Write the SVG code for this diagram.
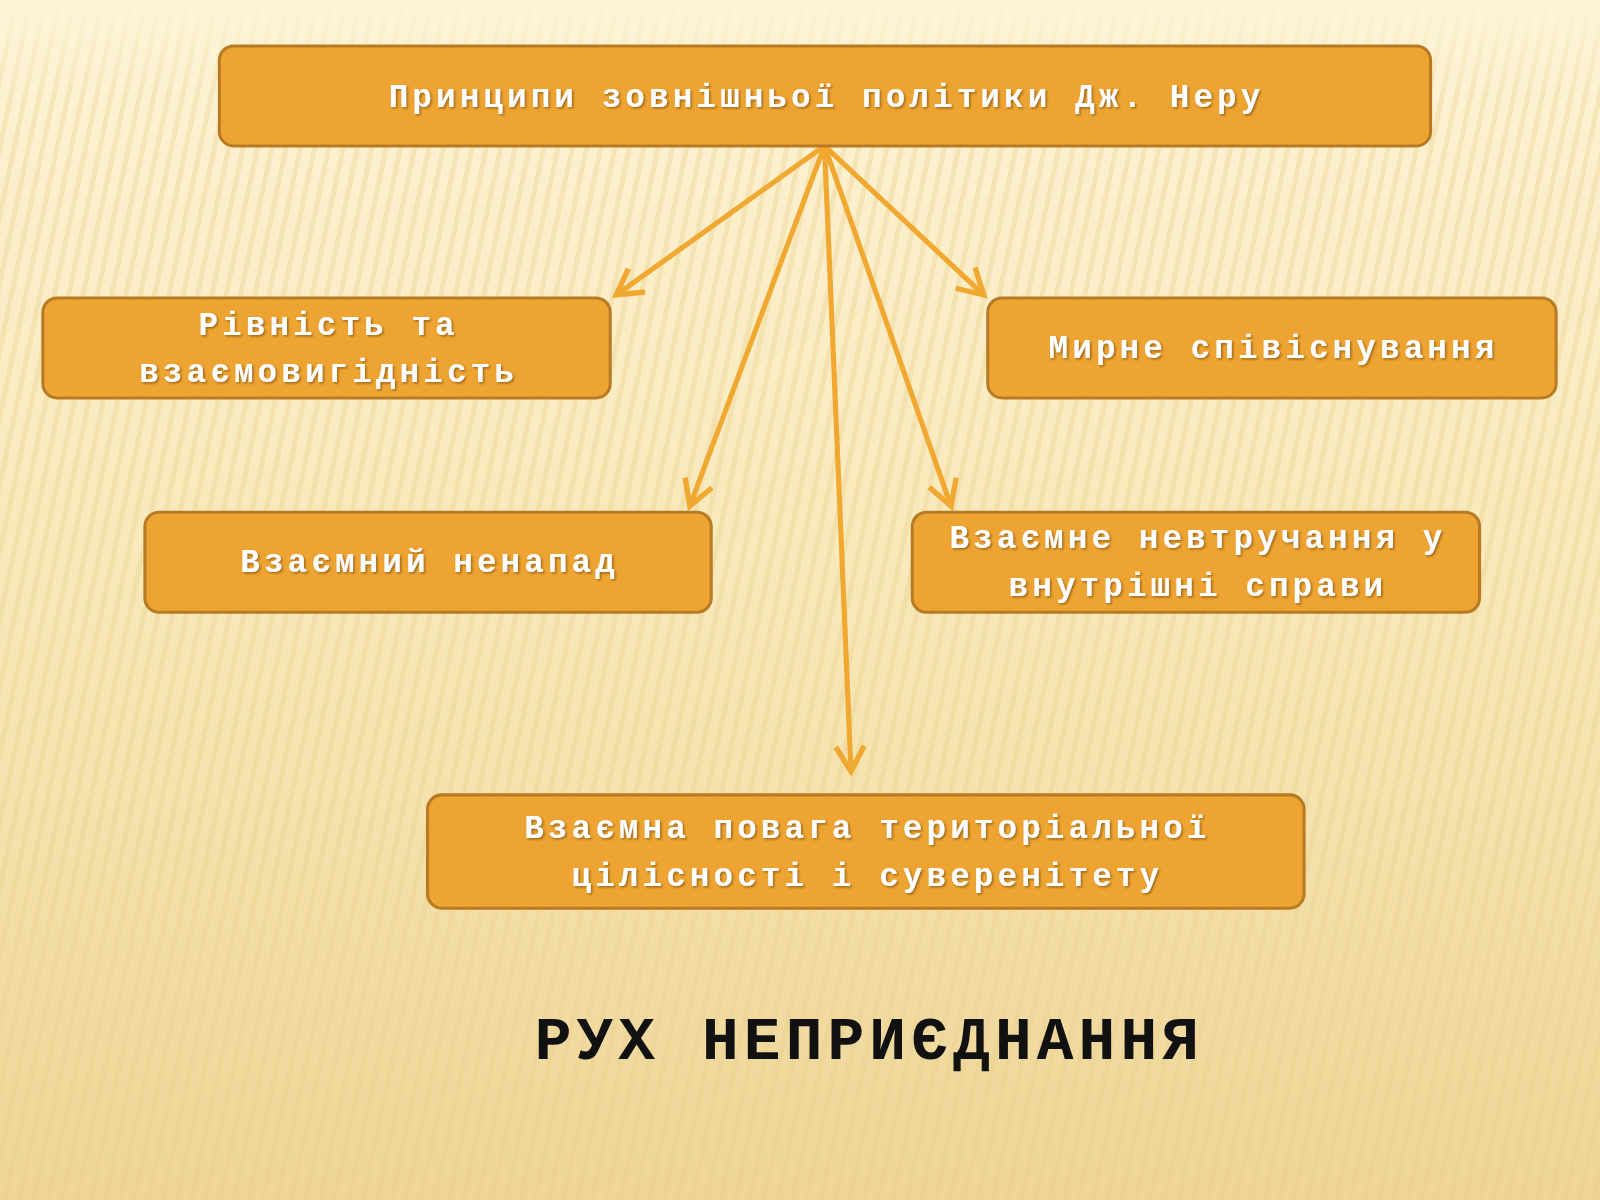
<svg xmlns="http://www.w3.org/2000/svg" width="1600" height="1200" viewBox="0 0 1600 1200">
<defs>
<linearGradient id="bg" x1="0" y1="0" x2="0" y2="1">
<stop offset="0" stop-color="#fdf3d6"/><stop offset="0.5" stop-color="#f8e8b8"/><stop offset="1" stop-color="#eed596"/>
</linearGradient>
<pattern id="st" width="14" height="14" patternUnits="userSpaceOnUse" patternTransform="rotate(12)">
<rect width="5" height="14" fill="#e8cf8a" opacity="0.35"/>
</pattern>
<linearGradient id="fade" x1="0" y1="0" x2="0" y2="1">
<stop offset="0" stop-color="#fdf3d6" stop-opacity="1"/><stop offset="0.08" stop-color="#fdf3d6" stop-opacity="0"/>
</linearGradient>
<marker id="ah" viewBox="0 0 20 20" refX="16" refY="10" markerWidth="7" markerHeight="7" markerUnits="strokeWidth" orient="auto">
<path d="M2,2 L16,10 L2,18" fill="none" stroke="#f0a830" stroke-width="3"/>
</marker>
<filter id="sh"><feDropShadow dx="1.5" dy="1.5" stdDeviation="0.8" flood-color="#8a5a10" flood-opacity="0.8"/></filter>
</defs>
<style>
.box{fill:#eea432;stroke:#b87a22;stroke-width:3}
.t{font-family:"Liberation Mono","DejaVu Sans Mono",monospace;font-weight:bold;font-size:32px;fill:#fff;text-anchor:middle;letter-spacing:4px;filter:url(#sh)}
.c{stroke:#f0a830;stroke-width:5;fill:none;marker-end:url(#ah)}
</style>
<rect width="1600" height="1200" fill="url(#bg)"/>
<rect width="1600" height="1200" fill="url(#st)"/>
<rect width="1600" height="1200" fill="url(#fade)"/>
<g transform="scale(1.0204)">
<g id="connectors">
<line class="c" x1="808" y1="143" x2="604" y2="289"/>
<line class="c" x1="808" y1="143" x2="964" y2="289"/>
<line class="c" x1="808" y1="143" x2="676" y2="496"/>
<line class="c" x1="808" y1="143" x2="932" y2="496"/>
<line class="c" x1="808" y1="143" x2="834" y2="756"/>
</g>
<g id="top"><rect class="box" x="215" y="45" width="1187" height="98" rx="14"/><text class="t" x="810" y="105">Принципи зовнішньої політики Дж. Неру</text></g>
<g id="n1"><rect class="box" x="42" y="292" width="556" height="98" rx="14"/><text class="t" x="322" y="328">Рівність та</text><text class="t" x="322" y="374">взаємовигідність</text></g>
<g id="n2"><rect class="box" x="968" y="292" width="557" height="98" rx="14"/><text class="t" x="1248" y="351">Мирне співіснування</text></g>
<g id="n3"><rect class="box" x="142" y="502" width="555" height="98" rx="14"/><text class="t" x="421" y="561">Взаємний ненапад</text></g>
<g id="n4"><rect class="box" x="894" y="502" width="556" height="98" rx="14"/><text class="t" x="1174" y="537">Взаємне невтручання у</text><text class="t" x="1174" y="584">внутрішні справи</text></g>
<g id="n5"><rect class="box" x="419" y="779" width="859" height="111" rx="14"/><text class="t" x="850" y="821">Взаємна повага територіальної</text><text class="t" x="850" y="868">цілісності і суверенітету</text></g>
<text x="852" y="1038" font-family="Liberation Mono,DejaVu Sans Mono,monospace" font-weight="bold" font-size="60" letter-spacing="5" text-anchor="middle" fill="#111">РУХ НЕПРИЄДНАННЯ</text>
</g>
</svg>
